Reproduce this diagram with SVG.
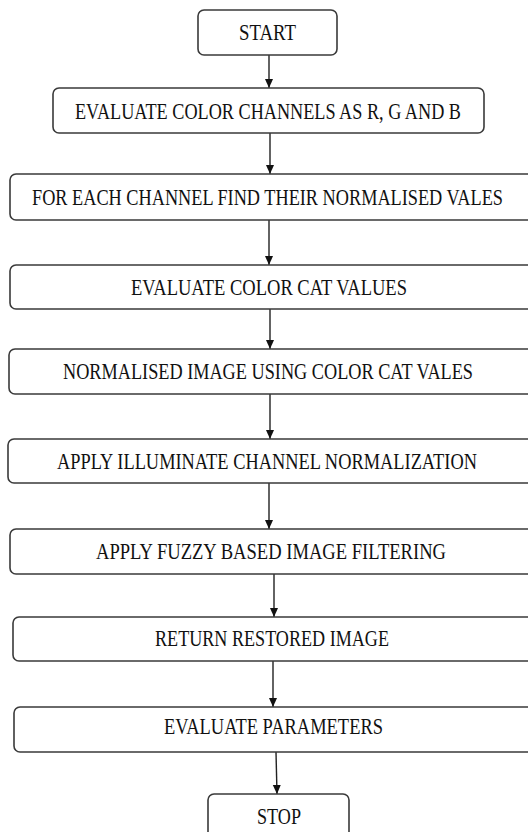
<svg xmlns="http://www.w3.org/2000/svg" width="528" height="832" viewBox="0 0 528 832">
<defs>
<style>
.box{fill:#fff;stroke:#3a3a3a;stroke-width:1.6}
.c{stroke:#222;stroke-width:1.4;fill:none}
</style>
<marker id="a" markerUnits="userSpaceOnUse" markerWidth="9" markerHeight="10" viewBox="0 0 9 10" refX="9" refY="4.5" orient="auto">
<path d="M0,0.5 L9,4.5 L0,8.5 Z" fill="#111"/>
</marker>
</defs>
<rect width="528" height="832" fill="#fff"/>
<g id="connectors">
<line class="c" x1="269" y1="55" x2="269" y2="88" marker-end="url(#a)"/>
<line class="c" x1="270" y1="133" x2="270" y2="174" marker-end="url(#a)"/>
<line class="c" x1="269" y1="220" x2="269" y2="265" marker-end="url(#a)"/>
<line class="c" x1="270" y1="309" x2="270" y2="349" marker-end="url(#a)"/>
<line class="c" x1="270" y1="394" x2="270" y2="439" marker-end="url(#a)"/>
<line class="c" x1="269" y1="483" x2="269" y2="529" marker-end="url(#a)"/>
<line class="c" x1="274" y1="574" x2="274" y2="617" marker-end="url(#a)"/>
<line class="c" x1="273" y1="661" x2="273" y2="707" marker-end="url(#a)"/>
<line class="c" x1="276" y1="752" x2="277" y2="794" marker-end="url(#a)"/>
</g>
<g font-family="Liberation Serif, Times New Roman, serif" font-size="19" fill="#111">
<g id="start">
<rect class="box" x="198" y="10" width="139" height="45" rx="6"/>
<text transform="translate(239,40) scale(1,1.25)" textLength="57" lengthAdjust="spacingAndGlyphs">START</text>
</g>
<g id="eval-channels">
<rect class="box" x="53" y="88" width="431" height="45" rx="6"/>
<text transform="translate(75,119) scale(1,1.25)" textLength="386" lengthAdjust="spacingAndGlyphs">EVALUATE COLOR CHANNELS AS R, G AND B</text>
</g>
<g id="normalised-vales">
<rect class="box" x="10" y="174" width="540" height="46" rx="6"/>
<text transform="translate(32,205) scale(1,1.25)" textLength="471" lengthAdjust="spacingAndGlyphs">FOR EACH CHANNEL FIND THEIR NORMALISED VALES</text>
</g>
<g id="color-cat">
<rect class="box" x="10" y="265" width="540" height="44" rx="6"/>
<text transform="translate(131,295) scale(1,1.25)" textLength="276" lengthAdjust="spacingAndGlyphs">EVALUATE COLOR CAT VALUES</text>
</g>
<g id="normalised-image">
<rect class="box" x="9" y="349" width="541" height="45" rx="6"/>
<text transform="translate(63,379) scale(1,1.25)" textLength="410" lengthAdjust="spacingAndGlyphs">NORMALISED IMAGE USING COLOR CAT VALES</text>
</g>
<g id="illuminate">
<rect class="box" x="8" y="439" width="542" height="44" rx="6"/>
<text transform="translate(57,469) scale(1,1.25)" textLength="420" lengthAdjust="spacingAndGlyphs">APPLY ILLUMINATE CHANNEL NORMALIZATION</text>
</g>
<g id="fuzzy">
<rect class="box" x="10" y="529" width="540" height="45" rx="6"/>
<text transform="translate(96,559) scale(1,1.25)" textLength="350" lengthAdjust="spacingAndGlyphs">APPLY FUZZY BASED IMAGE FILTERING</text>
</g>
<g id="restored">
<rect class="box" x="13" y="617" width="537" height="44" rx="6"/>
<text transform="translate(155,646) scale(1,1.25)" textLength="234" lengthAdjust="spacingAndGlyphs">RETURN RESTORED IMAGE</text>
</g>
<g id="parameters">
<rect class="box" x="14" y="707" width="536" height="45" rx="6"/>
<text transform="translate(164,734) scale(1,1.25)" textLength="219" lengthAdjust="spacingAndGlyphs">EVALUATE PARAMETERS</text>
</g>
<g id="stop">
<rect class="box" x="208" y="794" width="141" height="50" rx="6"/>
<text transform="translate(257,824) scale(1,1.25)" textLength="44" lengthAdjust="spacingAndGlyphs">STOP</text>
</g>
</g>
</svg>
